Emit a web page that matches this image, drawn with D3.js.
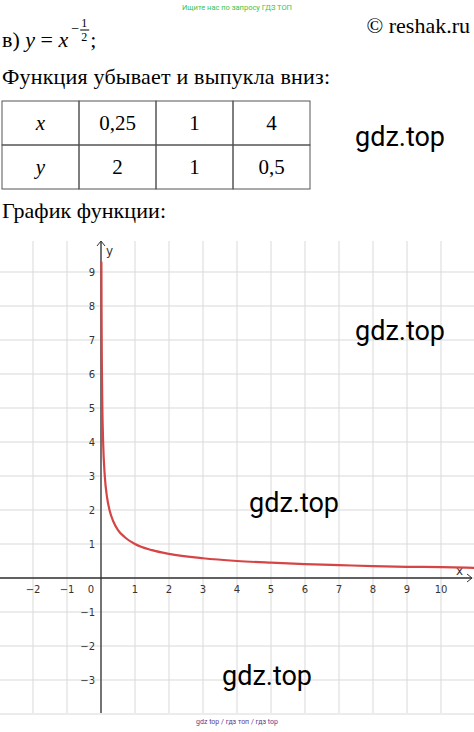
<!DOCTYPE html>
<html><head><meta charset="utf-8">
<script src="https://cdn.jsdelivr.net/npm/d3@7"></script>
<style>body{margin:0;background:#fff}svg{display:block}</style>
</head><body><div id="chart"></div>
<script>
const tableX = ['0,25', '1', '4'];
const tableY = ['2', '1', '0,5'];
// points
const curveX = [0.0116, 0.016, 0.025, 0.04, 0.0625, 0.11, 0.18, 0.25, 0.36, 0.5, 0.7, 1, 1.5, 2, 3, 4, 5, 6, 7, 8, 9, 10, 11];
const curveY = [9.3, 7.9, 6.3, 5, 4, 3.02, 2.36, 2, 1.67, 1.41, 1.2, 1, 0.82, 0.71, 0.58, 0.5, 0.45, 0.41, 0.38, 0.35, 0.33, 0.32, 0.3];
const xTicks = [-2, -1, 1, 2, 3, 4, 5, 6, 7, 8, 9, 10];
const yTicks = [-3, -2, -1, 1, 2, 3, 4, 5, 6, 7, 8, 9];

const W = 474, H = 732;
const svg = d3.select('#chart').append('svg').attr('width', W).attr('height', H);
const serif = '"Liberation Serif", serif';
const sans = 'Roboto, sans-serif';

// header
svg.append('text').attr('x', 237).attr('y', 10).attr('text-anchor', 'middle')
	.attr('font-family', sans).attr('font-size', 7.5).attr('fill', '#3ec24a').text('Ищите нас по запросу ГДЗ ТОП');
svg.append('text').attr('x', 470).attr('y', 33).attr('text-anchor', 'end')
	.attr('font-family', serif).attr('font-size', 22).text('© reshak.ru');
const f = svg.append('text').attr('x', 2).attr('y', 47).attr('font-family', serif).attr('font-size', 22);
f.append('tspan').text('в) ');
f.append('tspan').attr('font-style', 'italic').text('y');
f.append('tspan').text(' = ');
f.append('tspan').attr('font-style', 'italic').text('x');
const fw = f.node().getComputedTextLength() + 2;
svg.append('text').attr('x', fw + 3).attr('y', 33).attr('font-family', serif).attr('font-size', 14).text('−');
svg.append('text').attr('x', fw + 13).attr('y', 27).attr('font-family', serif).attr('font-size', 12).text('1');
svg.append('line').attr('x1', fw + 12).attr('x2', fw + 21).attr('y1', 30).attr('y2', 30).attr('stroke', '#000');
svg.append('text').attr('x', fw + 13).attr('y', 41).attr('font-family', serif).attr('font-size', 12).text('2');
svg.append('text').attr('x', fw + 22).attr('y', 47).attr('font-family', serif).attr('font-size', 22).text(';');
svg.append('text').attr('x', 2).attr('y', 84).attr('font-family', serif).attr('font-size', 22)
	.attr('textLength', 328).text('Функция убывает и выпукла вниз:');

// table
const colX = d3.scaleBand().domain(d3.range(4)).range([2, 310]);
const rowY = d3.scaleBand().domain([0, 1]).range([101, 189]);
const rows = [['x', ...tableX], ['y', ...tableY]];
const tbl = svg.append('g');
rows.forEach((r, i) => r.forEach((v, j) => {
	tbl.append('rect').attr('x', colX(j)).attr('y', rowY(i)).attr('width', colX.bandwidth()).attr('height', rowY.bandwidth())
		.attr('fill', 'none').attr('stroke', '#555').attr('stroke-width', 1);
	tbl.append('text').attr('x', colX(j) + colX.bandwidth() / 2).attr('y', rowY(i) + rowY.bandwidth() / 2 + 7)
		.attr('text-anchor', 'middle').attr('font-family', serif).attr('font-size', 21)
		.attr('font-style', j === 0 ? 'italic' : 'normal').text(v);
}));
svg.append('text').attr('x', 2).attr('y', 218).attr('font-family', serif).attr('font-size', 22)
	.attr('textLength', 164).text('График функции:');

// plot
const plotTop = 241, plotBottom = 713;
const x = d3.scaleLinear().domain([0, 10]).range([101, 441]);
const y = d3.scaleLinear().domain([0, 9]).range([578, 272]);
const g = svg.append('g');
g.selectAll('.vg').data(d3.range(-3, 12)).join('line')
	.attr('x1', d => x(d)).attr('x2', d => x(d)).attr('y1', plotTop).attr('y2', plotBottom)
	.attr('stroke', '#d9d9d9').attr('stroke-width', 1);
g.selectAll('.hg').data(d3.range(-4, 10)).join('line')
	.attr('x1', 0).attr('x2', W).attr('y1', d => y(d)).attr('y2', d => y(d))
	.attr('stroke', '#d9d9d9').attr('stroke-width', 1);
// axes
g.append('line').attr('x1', 0).attr('x2', 472).attr('y1', y(0)).attr('y2', y(0)).attr('stroke', '#333').attr('stroke-width', 1.3);
g.append('line').attr('x1', x(0)).attr('x2', x(0)).attr('y1', plotTop).attr('y2', plotBottom).attr('stroke', '#333').attr('stroke-width', 1.3);
g.append('path').attr('d', `M${467},${y(0) - 4}L472,${y(0)}L467,${y(0) + 4}`).attr('fill', 'none').attr('stroke', '#333');
g.append('path').attr('d', `M${x(0) - 4},${plotTop + 5}L${x(0)},${plotTop}L${x(0) + 4},${plotTop + 5}`).attr('fill', 'none').attr('stroke', '#333');
const lab = { 'font-family': '"DejaVu Sans", sans-serif', 'font-size': 10, fill: '#333' };
const xl = g.selectAll('.xl').data(xTicks).join('text')
	.attr('x', d => x(d)).attr('y', y(0) + 15).attr('text-anchor', 'middle')
	.text(d => d < 0 ? '−' + (-d) : d);
const yl = g.selectAll('.yl').data(yTicks).join('text')
	.attr('x', x(0) - 6).attr('y', d => y(d) + 4).attr('text-anchor', 'end')
	.text(d => d < 0 ? '−' + (-d) : d);
const zl = g.append('text').attr('x', x(0) - 7).attr('y', y(0) + 15).attr('text-anchor', 'end').text('0');
const al1 = g.append('text').attr('x', 456).attr('y', y(0) - 3).text('x').attr('font-size', 12);
const al2 = g.append('text').attr('x', x(0) + 5).attr('y', plotTop + 14).text('y').attr('font-size', 12);
[xl, yl, zl].forEach(s => Object.entries(lab).forEach(([k, v]) => s.attr(k, v)));
[al1, al2].forEach(s => s.attr('font-family', lab['font-family']).attr('fill', '#333'));

// curve
const pts = curveX.map((d, i) => [d, curveY[i]]);
g.append('path').datum(pts)
	.attr('d', d3.line().x(d => x(d[0])).y(d => y(d[1])).curve(d3.curveMonotoneX))
	.attr('fill', 'none').attr('stroke', '#d64545').attr('stroke-width', 2.2);

// watermarks
const wm = [[355, 146], [355, 340], [249, 512], [222, 685]];
svg.selectAll('.wm').data(wm).join('text').attr('x', d => d[0]).attr('y', d => d[1])
	.attr('font-family', sans).attr('font-size', 27).attr('fill', '#000').text('gdz.top');
svg.append('text').attr('x', 237).attr('y', 724).attr('text-anchor', 'middle')
	.attr('font-family', sans).attr('font-size', 7).attr('fill', '#5b3a8c').text('gdz top  /  гдз топ  /  гдз top');
</script></body></html>
